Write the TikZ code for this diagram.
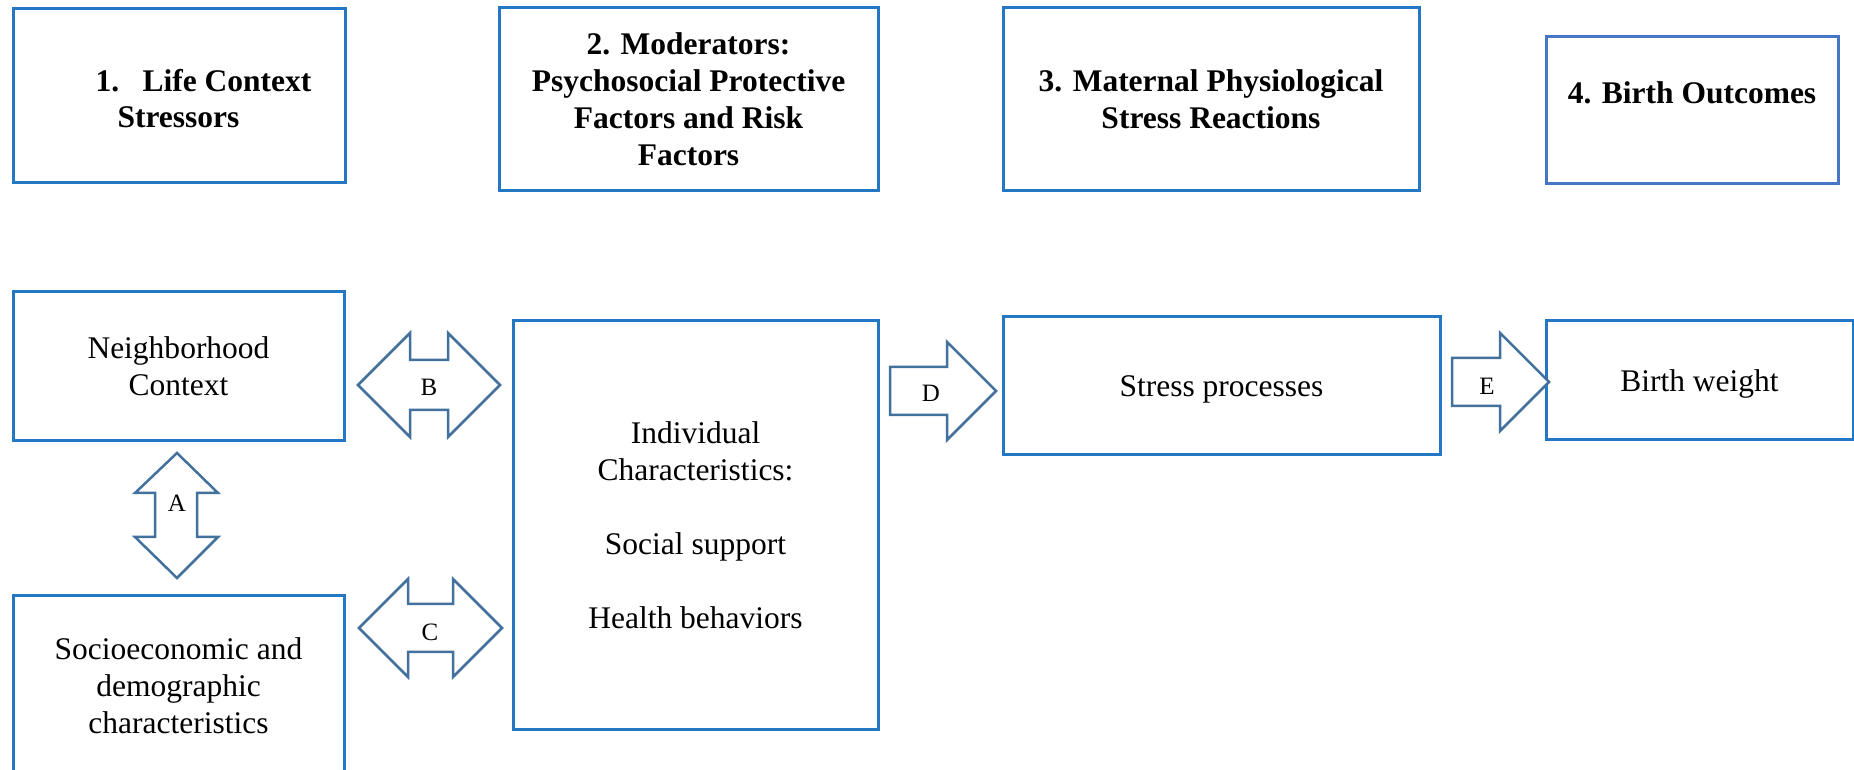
\documentclass[tikz,border=0pt]{standalone}
\usepackage{fontspec}
\setmainfont{Liberation Serif}
\usepackage{xcolor}
\definecolor{boxblue}{RGB}{36,119,194}
\definecolor{hdblue}{RGB}{72,118,198}
\definecolor{arrblue}{RGB}{65,113,156}

\begin{document}
\begin{tikzpicture}[x=0.4pt, y=-0.4pt, font=\fontsize{12.6pt}{14.8pt}\selectfont,
		box/.style={draw=boxblue, line width=1.2pt, align=center, inner sep=0pt},
		boxsize/.style 2 args={minimum width=#1*0.4pt, minimum height=#2*0.4pt},
		ttl/.style={font=\fontsize{12.6pt}{14.8pt}\selectfont\bfseries, inner sep=0pt},
		blockarr/.style={draw=arrblue, line width=1pt, fill=white, line join=miter},
		lbl/.style={font=\fontsize{10pt}{12pt}\selectfont, inner sep=0pt}]
		\clip (0,0) rectangle (1854,770);
		\fill[white] (0,0) rectangle (1854,770);

		% Headings
		\node[box, boxsize={332}{174}] (life) at (179,96) {};
		\node[ttl, anchor=base west] (lifeno) at (95,92) {1.};
		\node[ttl, anchor=base west] (lifea) at (142,92) {Life Context};
		\node[ttl, anchor=base west] (lifeb) at (117,128) {Stressors};
		\node[box, ttl, boxsize={379}{183}] (moder) at (688.5,99.5) {2. Moderators:\\Psychosocial Protective\\Factors and Risk\\Factors};
		\node[box, ttl, boxsize={416}{183}] (physio) at (1211,99.5) {3. Maternal Physiological\\Stress Reactions};
		\node[box, draw=hdblue, boxsize={292}{147}] (outc) at (1692,110.5) {};
		\node[ttl, anchor=base] (outct) at (1692,104) {4. Birth Outcomes};

		% Lower row
		\node[box, boxsize={331}{149}] (neigh) at (178.5,366.5) {Neighborhood\\Context};
		\node[box, boxsize={331}{180}] (socio) at (178.5,686) {Socioeconomic and\\demographic\\characteristics};
		\node[box, boxsize={365}{409}] (indiv) at (695.5,525.5) {Individual\\Characteristics:\\[14.8pt]Social support\\[14.8pt]Health behaviors};
		\node[box, text depth=0pt, boxsize={437}{138}] (stress) at (1221.5,386) {Stress processes};
		\node[box, text depth=0pt, boxsize={307}{119}] (bw) at (1699.5,380.5) {Birth weight};

		% Block arrows
		\draw[blockarr] (177,453) -- (218,493) -- (197,493) -- (197,537) -- (218,537) -- (177,578) -- (135,537) -- (155,537) -- (155,493) -- (135,493) -- cycle;
		\node[lbl] (lblA) at (177,503) {A};
		\draw[blockarr] (358,385) -- (410,333) -- (410,360) -- (448,360) -- (448,333) -- (500,385) -- (448,437) -- (448,410) -- (410,410) -- (410,437) -- cycle;
		\node[lbl] (lblB) at (429,387) {B};
		\draw[blockarr] (359,628) -- (408,579) -- (408,604) -- (453,604) -- (453,579) -- (502,628) -- (453,677) -- (453,652) -- (408,652) -- (408,677) -- cycle;
		\node[lbl] (lblC) at (430,632) {C};
		\draw[blockarr] (890,367) -- (947,367) -- (947,342) -- (996,391) -- (947,440) -- (947,415) -- (890,415) -- cycle;
		\node[lbl] (lblD) at (931,393) {D};
		\draw[blockarr] (1452,358) -- (1500,358) -- (1500,333) -- (1549,382) -- (1500,431) -- (1500,406) -- (1452,406) -- cycle;
		\node[lbl] (lblE) at (1487,386) {E};
	\end{tikzpicture}
\end{document}
